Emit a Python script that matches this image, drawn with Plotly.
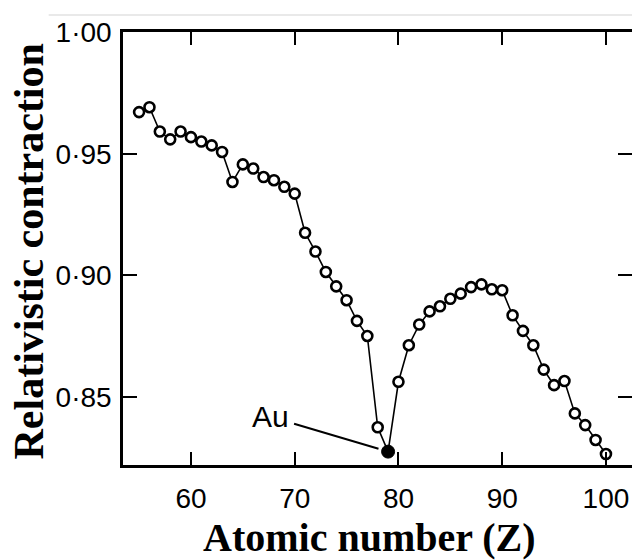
import plotly.graph_objects as go

# Atomic numbers (Cs=55 ... Fm=100)
z_numbers = list(range(55, 101))
# Relativistic contraction of the 6s shell
contraction = [
    0.9671, 0.9691, 0.9591, 0.9559, 0.9591, 0.9568, 0.9550, 0.9534,
    0.9507, 0.9384, 0.9456, 0.9439, 0.9404, 0.9391, 0.9364, 0.9336,
    0.9175, 0.9098, 0.9014, 0.8955, 0.8898, 0.8813, 0.8751, 0.8376,
    0.8276, 0.8563, 0.8713, 0.8798, 0.8852, 0.8873, 0.8904, 0.8925,
    0.8952, 0.8963, 0.8943, 0.8939, 0.8836, 0.8772, 0.8713, 0.8613,
    0.8549, 0.8566, 0.8433, 0.8385, 0.8324, 0.8266,
]
gold_z = 79
gold_label = "Au"

x_tickvals = [60, 70, 80, 90, 100]
y_tickvals = [0.85, 0.90, 0.95, 1.00]
y_ticktext = ["0·85", "0·90", "0·95", "1·00"]

x_title = "Atomic number (Z)"
y_title = "Relativistic contraction"

gold_val = contraction[z_numbers.index(gold_z)]
open_z = [z for z in z_numbers if z != gold_z]
open_v = [v for z, v in zip(z_numbers, contraction) if z != gold_z]

TICKFONT = dict(family="Liberation Sans Narrow, Liberation Sans, Arial", size=28, color="black")
TITLEFONT = dict(family="Liberation Serif, Times New Roman, serif", size=40, color="black")
YRANGE = [0.8221, 1.0]

fig = go.Figure()
fig.add_trace(go.Scatter(
    x=z_numbers, y=contraction, mode="lines",
    line=dict(color="black", width=1.6), hoverinfo="skip", showlegend=False,
))
fig.add_trace(go.Scatter(
    x=open_z, y=open_v, mode="markers",
    marker=dict(symbol="circle", size=10, color="white",
                line=dict(color="black", width=2.6)),
    showlegend=False,
))
fig.add_trace(go.Scatter(
    x=[gold_z], y=[gold_val], mode="markers",
    marker=dict(symbol="circle", size=13, color="black",
                line=dict(color="black", width=1)),
    showlegend=False,
))
# empty trace so the right-hand tick axis gets drawn
fig.add_trace(go.Scatter(x=[], y=[], yaxis="y2", showlegend=False, hoverinfo="skip"))

fig.update_layout(
    width=632, height=560,
    margin=dict(l=122.5, r=0, t=32, b=95),
    paper_bgcolor="white", plot_bgcolor="white",
    showlegend=False,
    xaxis=dict(
        range=[53.45, 102.51], tickvals=x_tickvals,
        ticks="inside", ticklen=13, tickwidth=2, tickcolor="black",
        showline=True, linecolor="black", linewidth=3, mirror="ticks",
        showgrid=False, zeroline=False, tickfont=TICKFONT,
        ticklabelstandoff=6, ticklabeloverflow="allow",
    ),
    yaxis=dict(
        range=YRANGE, tickvals=y_tickvals, ticktext=y_ticktext,
        ticks="inside", ticklen=14, tickwidth=2, tickcolor="black",
        showline=True, linecolor="black", linewidth=2.5,
        showgrid=False, zeroline=False, tickfont=TICKFONT,
        ticklabelstandoff=3, ticklabeloverflow="allow",
    ),
    yaxis2=dict(
        range=YRANGE, tickvals=y_tickvals, overlaying="y", side="right",
        ticks="inside", ticklen=14, tickwidth=2, tickcolor="black",
        showline=False, showgrid=False, zeroline=False, showticklabels=False,
    ),
)

# Axis titles
fig.add_annotation(
    text=f"<b>{x_title}</b>", xref="paper", yref="paper", x=0.5, y=0,
    xanchor="center", yanchor="middle", xshift=-8, yshift=-72,
    showarrow=False, font=TITLEFONT,
)
fig.add_annotation(
    text=f"<b>{y_title}</b>", xref="paper", yref="paper", x=0, y=0.5,
    xanchor="center", yanchor="middle", xshift=-95, yshift=-3,
    textangle=-90, showarrow=False, font=dict(TITLEFONT, size=42),
)

# Au label with pointer line
fig.add_annotation(
    x=gold_z, y=gold_val, text=gold_label, showarrow=True,
    arrowhead=0, arrowwidth=2, arrowcolor="black", standoff=10, borderpad=5,
    ax=-118, ay=-35, font=dict(family="Liberation Sans, Arial", size=30, color="black"),
)

# faint scan edge line near the top
fig.add_shape(type="line", xref="paper", yref="paper",
              x0=-0.146, x1=1.0, y0=1.039, y1=1.039,
              line=dict(color="#e2e2e2", width=1.5))

fig.write_html("out.html")
